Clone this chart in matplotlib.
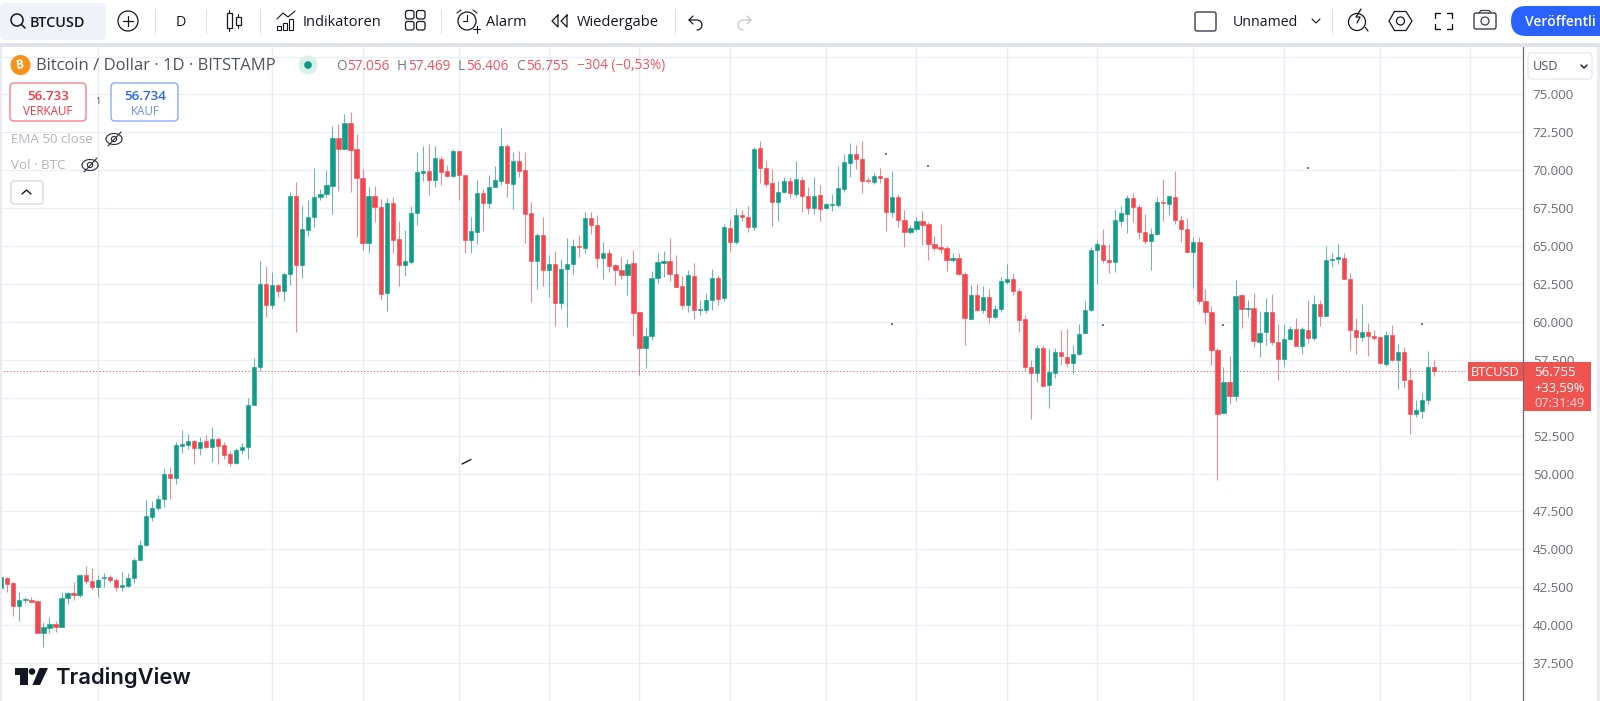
import numpy as np
import matplotlib
matplotlib.use('Agg')
import matplotlib.pyplot as plt
from matplotlib.patches import Circle, FancyBboxPatch, Polygon, Rectangle

plt.rcParams['font.family'] = ['Open Sans', 'DejaVu Sans']

# daily candles, thousands of USD
opens = [42.46, 43.10, 42.75, 41.25, 41.67, 41.63, 41.58, 39.49, 39.82, 40.09,
         39.87, 41.78, 42.09, 42.00, 43.28, 42.90, 42.53, 43.08, 43.15, 42.97,
         42.53, 42.60, 43.08, 44.31, 45.26, 47.13, 47.72, 48.32, 49.94, 49.72,
         51.84, 51.90, 52.17, 51.66, 52.17, 51.73, 52.28, 51.88, 51.29, 50.71,
         51.55, 51.73, 54.52, 57.05, 62.49, 61.13, 62.45, 62.03, 63.13, 68.32,
         63.77, 66.08, 66.91, 68.26, 68.43, 68.96, 72.11, 71.40, 73.12, 71.38,
         69.51, 65.20, 68.32, 67.58, 61.90, 67.86, 65.44, 63.77, 63.94, 67.18,
         69.84, 69.97, 69.36, 70.74, 69.93, 69.60, 71.27, 69.69, 65.42, 65.95,
         68.50, 67.86, 68.90, 69.31, 71.62, 69.07, 70.63, 70.04, 67.16, 64.01,
         65.75, 63.44, 63.82, 61.24, 63.51, 63.82, 65.00, 64.87, 66.87, 66.39,
         64.23, 64.52, 63.75, 63.42, 63.07, 63.88, 60.65, 58.25, 59.06, 62.91,
         63.90, 64.03, 63.13, 62.34, 61.13, 63.04, 60.78, 60.80, 61.44, 62.91,
         61.55, 66.21, 65.24, 67.05, 66.92, 66.26, 71.47, 70.15, 69.16, 67.91,
         68.54, 69.29, 68.43, 69.34, 68.32, 67.53, 68.35, 67.49, 67.71, 67.71,
         68.77, 70.50, 71.10, 70.74, 69.34, 69.20, 69.62, 69.51, 67.27, 68.22,
         66.74, 65.95, 66.12, 66.63, 66.43, 65.16, 64.94, 64.85, 64.08, 64.21,
         63.15, 60.19, 61.79, 60.78, 61.64, 60.30, 60.84, 62.65, 62.80, 62.03,
         60.16, 57.02, 56.62, 58.25, 55.83, 56.66, 58.03, 57.68, 57.30, 57.88,
         59.24, 60.76, 64.72, 65.09, 64.08, 63.97, 66.68, 67.14, 68.17, 67.55,
         65.91, 65.31, 65.80, 67.91, 67.80, 68.21, 66.74, 66.15, 64.63, 65.25,
         61.37, 60.67, 58.14, 54.00, 56.03, 55.13, 61.75, 60.85, 60.91, 58.69,
         59.31, 60.63, 58.67, 57.55, 58.85, 59.51, 58.43, 59.46, 58.96, 61.16,
         60.36, 64.08, 64.13, 64.21, 62.81, 59.44, 59.02, 59.33, 59.09, 59.00,
         57.22, 59.11, 57.48, 57.99, 56.14, 53.90, 54.14, 54.84, 57.056]
highs = [43.56, 43.19, 42.86, 42.18, 41.87, 41.87, 41.61, 40.18, 40.51, 40.26,
         42.22, 42.20, 42.82, 43.28, 43.89, 43.76, 43.30, 43.45, 43.34, 43.10,
         43.50, 43.41, 44.40, 45.59, 48.25, 48.16, 48.58, 50.34, 50.43, 52.10,
         52.87, 52.58, 52.21, 52.39, 52.52, 53.05, 52.39, 52.10, 51.51, 51.66,
         51.99, 54.98, 57.64, 63.99, 63.68, 63.26, 62.49, 63.24, 68.54, 69.23,
         67.64, 68.04, 70.15, 68.74, 70.02, 72.92, 73.05, 73.71, 73.82, 72.39,
         70.06, 68.87, 68.94, 68.10, 68.17, 68.21, 66.63, 66.06, 67.64, 71.23,
         71.58, 71.76, 71.58, 70.94, 70.35, 71.40, 71.29, 69.69, 66.91, 69.36,
         68.76, 69.69, 70.28, 72.77, 71.73, 71.18, 71.29, 71.23, 67.93, 65.86,
         66.94, 64.41, 64.65, 64.14, 65.53, 65.49, 65.71, 67.25, 67.23, 67.05,
         65.29, 64.78, 63.79, 64.28, 64.17, 64.72, 60.67, 59.66, 63.35, 64.52,
         64.65, 65.53, 64.41, 63.00, 63.40, 63.88, 61.44, 61.88, 63.48, 63.09,
         66.46, 66.76, 67.49, 67.40, 67.64, 71.54, 71.93, 70.63, 70.06, 69.29,
         69.58, 69.53, 70.59, 69.53, 68.87, 69.53, 69.01, 67.82, 68.41, 70.28,
         71.05, 71.78, 71.65, 71.93, 69.53, 69.80, 70.17, 69.58, 69.94, 68.46,
         67.36, 66.39, 66.92, 67.31, 66.59, 65.68, 66.46, 64.98, 64.52, 64.52,
         63.29, 62.41, 62.47, 62.36, 62.17, 61.11, 62.93, 63.82, 63.22, 62.25,
         60.45, 57.52, 58.51, 58.45, 58.21, 58.27, 59.44, 59.53, 58.51, 59.86,
         61.40, 64.91, 65.40, 66.10, 65.12, 67.47, 67.64, 68.35, 68.48, 67.75,
         67.11, 66.17, 68.24, 69.43, 68.28, 69.98, 66.98, 66.83, 65.58, 65.58,
         62.18, 61.04, 58.25, 57.04, 57.74, 62.76, 61.75, 61.46, 61.88, 60.69,
         61.57, 61.81, 59.86, 59.86, 59.73, 60.28, 59.64, 61.42, 61.79, 61.42,
         65.01, 64.57, 65.12, 64.52, 63.20, 60.23, 61.18, 59.90, 59.46, 59.00,
         59.37, 59.79, 58.52, 58.34, 56.98, 54.84, 55.30, 58.05, 57.469]
lows = [42.05, 42.18, 40.59, 40.29, 41.47, 41.52, 39.49, 38.53, 39.49, 39.54,
        39.85, 41.41, 41.65, 41.83, 42.71, 42.31, 41.87, 42.53, 42.88, 42.24,
        42.24, 42.53, 42.77, 44.29, 45.21, 46.89, 47.59, 47.77, 48.34, 49.31,
        51.35, 51.64, 50.65, 51.24, 51.70, 50.76, 50.65, 50.93, 50.52, 50.60,
        51.29, 50.96, 54.50, 56.76, 60.34, 60.82, 61.66, 61.41, 62.43, 59.33,
        62.89, 65.66, 66.28, 68.06, 68.26, 67.11, 68.65, 71.40, 68.59, 65.60,
        64.74, 64.54, 66.59, 61.46, 60.72, 64.54, 62.36, 63.04, 63.84, 66.41,
        69.29, 68.35, 68.90, 69.05, 69.58, 69.58, 68.04, 64.54, 64.54, 65.13,
        66.01, 67.49, 68.90, 69.05, 68.24, 67.47, 69.58, 65.22, 61.29, 62.17,
        62.36, 61.64, 59.70, 60.82, 59.66, 63.15, 64.28, 64.52, 65.82, 63.57,
        62.81, 63.29, 62.41, 62.81, 61.77, 59.06, 56.53, 56.93, 58.80, 62.58,
        62.96, 62.69, 62.32, 60.87, 60.65, 60.19, 60.45, 60.61, 60.78, 61.11,
        61.35, 64.61, 65.13, 66.65, 65.95, 66.06, 69.18, 68.90, 66.34, 66.65,
        68.52, 68.17, 68.24, 67.25, 67.11, 67.11, 66.65, 67.44, 67.29, 67.60,
        68.59, 69.58, 70.11, 68.48, 69.16, 69.09, 69.18, 65.99, 66.92, 66.23,
        64.96, 65.79, 66.01, 65.07, 64.08, 64.69, 64.54, 63.35, 63.95, 63.09,
        58.47, 60.19, 60.69, 60.61, 59.92, 60.27, 60.65, 62.47, 61.77, 59.33,
        56.78, 53.61, 56.05, 55.79, 54.29, 56.29, 57.19, 57.04, 56.58, 57.81,
        59.24, 60.71, 62.47, 63.88, 63.22, 63.29, 66.30, 65.84, 66.59, 65.47,
        65.14, 63.42, 65.75, 66.68, 67.05, 66.48, 65.29, 64.56, 62.23, 61.18,
        59.88, 57.17, 49.56, 54.00, 54.60, 54.77, 59.59, 60.32, 58.36, 57.70,
        58.49, 58.49, 56.16, 57.11, 58.80, 58.41, 57.88, 58.60, 58.82, 59.75,
        60.36, 63.60, 63.84, 62.83, 58.12, 57.90, 58.71, 57.77, 58.78, 57.26,
        57.11, 57.42, 55.57, 55.66, 52.60, 53.74, 53.68, 54.58, 56.406]
closes = [43.19, 42.71, 41.25, 41.65, 41.72, 41.54, 39.49, 39.87, 40.09, 39.87,
          41.80, 42.13, 42.00, 43.28, 42.90, 42.53, 43.01, 43.15, 42.97, 42.53,
          42.62, 43.10, 44.33, 45.28, 47.17, 47.74, 48.32, 49.94, 49.72, 51.88,
          51.95, 52.17, 51.66, 52.10, 51.77, 52.28, 51.84, 51.24, 50.71, 51.57,
          51.75, 54.52, 57.05, 62.50, 61.13, 62.45, 62.03, 63.15, 68.32, 63.77,
          66.10, 66.91, 68.26, 68.45, 69.03, 72.11, 71.43, 73.12, 71.36, 69.49,
          65.20, 68.32, 67.60, 61.83, 67.86, 65.42, 63.77, 63.99, 67.16, 69.86,
          69.97, 69.38, 70.81, 69.91, 69.60, 71.27, 69.67, 65.42, 65.99, 68.52,
          67.86, 68.92, 69.34, 71.62, 69.16, 70.63, 69.97, 67.14, 64.01, 65.75,
          63.44, 63.82, 61.24, 63.51, 63.82, 64.98, 64.94, 66.87, 66.37, 64.23,
          64.52, 63.70, 63.44, 63.07, 63.82, 60.61, 58.25, 59.08, 62.91, 63.92,
          64.03, 63.13, 62.32, 61.13, 63.09, 60.80, 60.84, 61.44, 62.91, 61.48,
          66.23, 65.27, 67.05, 66.92, 66.26, 71.40, 70.13, 69.09, 67.91, 68.57,
          69.29, 68.50, 69.40, 68.30, 67.53, 68.32, 67.42, 67.75, 67.75, 68.81,
          70.57, 71.10, 70.72, 69.31, 69.27, 69.62, 69.49, 67.27, 68.22, 66.74,
          65.95, 66.17, 66.63, 66.41, 65.13, 64.87, 64.81, 64.08, 64.21, 63.13,
          60.25, 61.79, 60.78, 61.64, 60.32, 60.84, 62.67, 62.80, 62.01, 60.14,
          57.02, 56.62, 58.25, 55.79, 56.71, 58.03, 57.72, 57.30, 57.88, 59.22,
          60.80, 64.74, 65.12, 64.08, 63.97, 66.70, 67.16, 68.17, 67.55, 65.91,
          65.36, 65.80, 67.91, 67.84, 68.28, 66.74, 66.15, 64.61, 65.25, 61.37,
          60.67, 58.14, 53.96, 56.03, 55.13, 61.70, 60.85, 60.91, 58.73, 59.30,
          60.63, 58.67, 57.55, 58.87, 59.51, 58.43, 59.53, 58.96, 61.16, 60.39,
          64.08, 64.15, 64.28, 62.85, 59.44, 59.02, 59.33, 59.09, 58.93, 57.31,
          59.15, 57.48, 57.99, 56.14, 53.92, 54.16, 54.84, 57.04, 56.755]

# the 55.000 label sits under the red price tag in the screenshot
price_ticks = [37.5, 40, 42.5, 45, 47.5, 50, 52.5, 55, 57.5, 60, 62.5, 65, 67.5, 70, 72.5, 75]
price_labels = ['37.500', '40.000', '42.500', '45.000', '47.500', '50.000', '52.500', '',
                '57.500', '60.000', '62.500', '65.000', '67.500', '70.000', '72.500', '75.000']
date_grid = [16, 45, 60, 76, 91, 106, 121, 137, 152, 167, 182, 198, 213, 229, 244]

UP = '#0f9c88'
DOWN = '#f4474f'
GRID = '#ebf0f5'
GRAY = '#787b86'
DARK = '#131722'

W, H = 1600, 701
fig = plt.figure(figsize=(W / 100, H / 100), dpi=100, facecolor='white')

# price pane: x is candle number, y is price
ax = fig.add_axes([0, 0, 1523 / W, (H - 47) / H])
ax.set_xlim(-0.22, 252.75)
ax.set_ylim(35.0, 78.13)
for s in ['top', 'left', 'bottom']:
    ax.spines[s].set_visible(False)
ax.spines['right'].set_color('#6a6d78')
ax.spines['right'].set_linewidth(0.9)
ax.yaxis.tick_right()
ax.set_yticks(price_ticks, price_labels)
ax.tick_params(axis='y', length=0, pad=7, labelsize=9.6, labelcolor='#6a6d78')
ax.set_xticks([])
ax.set_axisbelow(True)
for g in date_grid:
    ax.axvline(g, color='#e6edf3', lw=1.0, zorder=0)
for p in price_ticks + [77.5]:
    ax.axhline(p, color=GRID, lw=1.0, zorder=0)

idx = np.arange(len(opens))
o, hi, lo, c = np.array(opens), np.array(highs), np.array(lows), np.array(closes)
colors = np.where(c >= o, UP, DOWN)
ax.vlines(idx, lo, hi, colors=colors, lw=0.75, alpha=0.65, zorder=2)
ax.bar(idx, np.abs(c - o), bottom=np.minimum(o, c), width=0.7, color=colors,
       edgecolor=colors, linewidth=0.4, zorder=3)
ax.axhline(closes[-1], color='#f23645', lw=0.7, ls=(0, (1.2, 2.2)), alpha=0.85, zorder=1)

# everything else is screen furniture, placed in pixels
ui = fig.add_axes([0, 0, 1, 1], zorder=5)
ui.set_xlim(0, W)
ui.set_ylim(H, 0)
ui.axis('off')
ui.patch.set_alpha(0)


def txt(x, y, s, size=10, color=DARK, ha='left', **kw):
    # open sans sits high when centred, nudge it down
    ui.text(x, y + 2, s, fontsize=size, color=color, ha=ha, va='center', zorder=4, **kw)


def box(x0, y0, x1, y1, r=3, fc='white', ec='none', lw=1.0, z=2):
    ui.add_patch(FancyBboxPatch((x0 + r, y0 + r), x1 - x0 - 2 * r, y1 - y0 - 2 * r,
                                boxstyle='round,pad=%f,rounding_size=%f' % (r, r),
                                fc=fc, ec=ec, lw=lw, zorder=z))


def line(xs, ys, color=DARK, lw=0.9, **kw):
    ui.plot(xs, ys, color=color, lw=lw, solid_capstyle='round', zorder=3, **kw)


def ring(x, y, r, color=DARK, lw=0.9, fc='none'):
    ui.add_patch(Circle((x, y), r, fc=fc, ec=color, lw=lw, zorder=3))


def eye(x, y):
    t = np.linspace(0, np.pi, 20)
    line(x + 8 * np.cos(t), y - 5.5 * np.sin(t), color='#2a2e39', lw=0.8)
    line(x + 8 * np.cos(t), y + 5.5 * np.sin(t), color='#2a2e39', lw=0.8)
    ring(x, y, 2.6, color='#2a2e39', lw=0.8)
    line([x - 6, x + 7], [y + 7, y - 7], color='#2a2e39', lw=0.8)


# toolbar
ui.add_patch(Rectangle((0, 0), W, 43, fc='white', ec='none'))
ui.add_patch(Rectangle((0, 43), W, 4, fc='#e0e3eb', ec='none'))
ui.add_patch(Rectangle((0, 47), 2, H - 47, fc='#e8ebf3', ec='none', zorder=0))
ui.add_patch(Rectangle((1597, 47), 3, H - 47, fc='#e8ebf3', ec='none'))
box(0, 3, 106, 40, r=5, fc='#f0f3fa')
ring(17, 20, 6, lw=1.1)
line([21.5, 25], [24.5, 28], lw=1.1)
txt(30, 21, 'BTCUSD', size=10.4, fontweight='semibold')
ring(128, 21, 10)
line([123, 133], [21, 21])
line([128, 128], [16, 26])
for sx in [155, 206, 260, 441, 675, 1332]:
    line([sx, sx], [9, 34], color='#e0e3eb', lw=0.8)
txt(181, 21, 'D', size=10.4, ha='center')
for cx, y0, y1 in [(229, 13, 28), (238, 17, 25)]:
    ui.add_patch(Rectangle((cx - 2.5, y0), 5, y1 - y0, fc='none', ec=DARK, lw=0.9))
    line([cx, cx], [y0 - 3, y0], lw=0.8)
    line([cx, cx], [y1, y1 + 3], lw=0.8)
for bx, by in [(279, 26), (285, 23), (291, 19)]:
    ui.add_patch(Rectangle((bx - 2, by), 4, 30 - by, fc='none', ec=DARK, lw=0.8))
line([277, 283, 288, 295], [19, 13, 17, 11], lw=0.8)
txt(303, 21, 'Indikatoren', size=10.5)
for sx, sy in [(409, 14), (420, 14), (409, 25), (420, 25)]:
    box(sx - 3.5, sy - 3.5, sx + 5, sy + 5, r=2.2, ec=DARK, lw=0.9, fc='none')
ring(467, 21, 9)
line([467, 467, 463], [15, 21, 21], lw=0.8)
line([473, 480], [29, 29], lw=0.8)
line([476.5, 476.5], [25.5, 32.5], lw=0.8)
line([457, 461], [13, 10], lw=0.8)
line([473, 477], [10, 13], lw=0.8)
txt(486, 21, 'Alarm', size=10.5)
line([558, 552, 558, 558], [15, 21, 27, 15], lw=0.9)
line([567, 561, 567, 567], [15, 21, 27, 15], lw=0.9)
txt(577, 21, 'Wiedergabe', size=10.5)
line([693, 689, 693], [16, 20, 24], lw=0.9)
t = np.linspace(-np.pi / 2, np.pi / 2, 12)
line(np.r_[689, 702 + 5 * np.cos(t) - 5], np.r_[20, 25 + 5 * np.sin(t)], lw=0.9)
line([747, 751, 747], [16, 20, 24], color='#c4c6ce', lw=0.9)
line(np.r_[751, 738 - 5 * np.cos(t) + 5], np.r_[20, 25 + 5 * np.sin(t)], color='#c4c6ce', lw=0.9)

box(1195, 12, 1216, 31, r=2, ec='#3a3e4a', lw=1.0, fc='none')
txt(1233, 21, 'Unnamed', size=10.2)
line([1312, 1316, 1320], [19, 23, 19], lw=0.8)
ring(1357, 22, 8.5)
line([1365, 1368], [27, 31], lw=0.9)
line([1361, 1356, 1360, 1357], [9, 17, 17, 23], lw=0.9)
ui.add_patch(Polygon([[1389, 21], [1394.5, 11.5], [1406, 11.5], [1412, 21], [1406, 30.5], [1394.5, 30.5]],
                     closed=True, fc='none', ec=DARK, lw=0.9))
ring(1400.5, 21, 4)
for cx, cy, dx, dy in [(1435, 13, 1, 1), (1452, 13, -1, 1), (1435, 29, 1, -1), (1452, 29, -1, -1)]:
    line([cx + 5 * dx, cx, cx], [cy, cy, cy + 5 * dy], lw=1.0)
box(1474, 13, 1496, 29, r=2, ec='#3a3e4a', fc='none')
line([1479, 1481, 1489, 1491], [13, 10.5, 10.5, 13], color='#3a3e4a')
ring(1485, 21, 4, color='#3a3e4a')
box(1511, 6, 1640, 36, r=15, fc='#2962ff', z=2)
txt(1525, 19.5, 'Veröffentli', size=10.0, color='white', fontweight='semibold')

# legend block over the pane
ui.add_patch(Circle((20.5, 65), 10, fc='#f7931a', ec='none'))
txt(20.5, 63, 'B', size=8.5, color='white', ha='center', fontweight='bold', rotation=10)
txt(36, 63.5, 'Bitcoin / Dollar · 1D · BITSTAMP', size=12.0, color='#50535e')
ui.add_patch(Circle((308, 65), 9.5, fc='#d9f0ea', ec='none'))
ui.add_patch(Circle((308, 65), 3.8, fc='#089981', ec='none'))
RED = '#f7525f'
for x, s, col in [(336, 'O', GRAY), (347, '57.056', RED), (397, 'H', GRAY), (408, '57.469', RED),
                  (458, 'L', GRAY), (466, '56.406', RED), (516, 'C', GRAY), (526, '56.755', RED),
                  (577, '−304 (−0,53%)', RED)]:
    txt(x, 64, s, size=9.8, color=col)

box(10, 83, 86, 121, r=4, ec='#f7808a', lw=1.0)
txt(48, 94, '56.733', size=9.6, color='#f23645', ha='center', fontweight='semibold')
txt(48, 109.5, 'VERKAUF', size=8.4, color='#f23645', ha='center')
txt(98, 100, '1', size=6.5, color='#50535e', ha='center')
box(111, 83, 178, 121, r=4, ec='#8ea8ff', lw=1.0)
txt(145, 94, '56.734', size=9.6, color='#2962ff', ha='center', fontweight='semibold')
txt(145, 109.5, 'KAUF', size=8.4, color='#6f8dff', ha='center')
txt(11, 137.5, 'EMA 50 close', size=9.6, color='#b2b5be')
eye(114, 139)
txt(11, 163.5, 'Vol · BTC', size=9.6, color='#b2b5be')
eye(90, 165)
box(11, 181, 43, 204, r=3, ec='#d6d8e0', lw=0.9)
line([22, 26.5, 31], [194, 190, 194], lw=1.0)

# price scale widgets
box(1528, 53, 1592, 79, r=3, ec='#e6e8ee', lw=0.9)
txt(1533, 64.5, 'USD', size=9.2, color='#50535e')
line([1581, 1584, 1587], [65, 68, 65], lw=1.0)
TAG = '#ef5350'
ui.add_patch(Rectangle((1468, 362), 55, 19, fc=TAG, ec='none'))
ui.add_patch(Rectangle((1524, 362), 67, 49, fc=TAG, ec='none'))
txt(1495.5, 370, 'BTCUSD', size=9.2, color='white', ha='center')
txt(1534, 370.5, '56.755', size=9.6, color='white')
txt(1534, 386, '+33,59%', size=9.2, color='white')
txt(1534, 401.5, '07:31:49', size=9.2, color='#ffd9d9')

# stray marks in the screenshot
for sx, sy in [(886, 154), (928, 166), (892, 324), (1103, 325), (1223, 325), (1308, 168), (1422, 324)]:
    ui.add_patch(Rectangle((sx - 0.7, sy - 0.7), 1.5, 1.5, fc='#777777', ec='none'))
line([462, 471], [464, 459.5], color='#1a1a1a', lw=1.0)

# logo
ui.add_patch(Polygon([[14.5, 668], [27.5, 668], [27.5, 685], [20, 685], [20, 675], [14.5, 675]],
                     closed=True, fc=DARK, ec='none'))
ui.add_patch(Circle((32, 671.5), 3.3, fc=DARK, ec='none'))
ui.add_patch(Polygon([[39.5, 668], [48, 668], [40, 685], [32.5, 685]], closed=True, fc=DARK, ec='none'))
txt(55, 675, 'TradingView', size=15.8, family=['Inter', 'DejaVu Sans'], fontweight='semibold')

fig.savefig('out.png', dpi=100)
